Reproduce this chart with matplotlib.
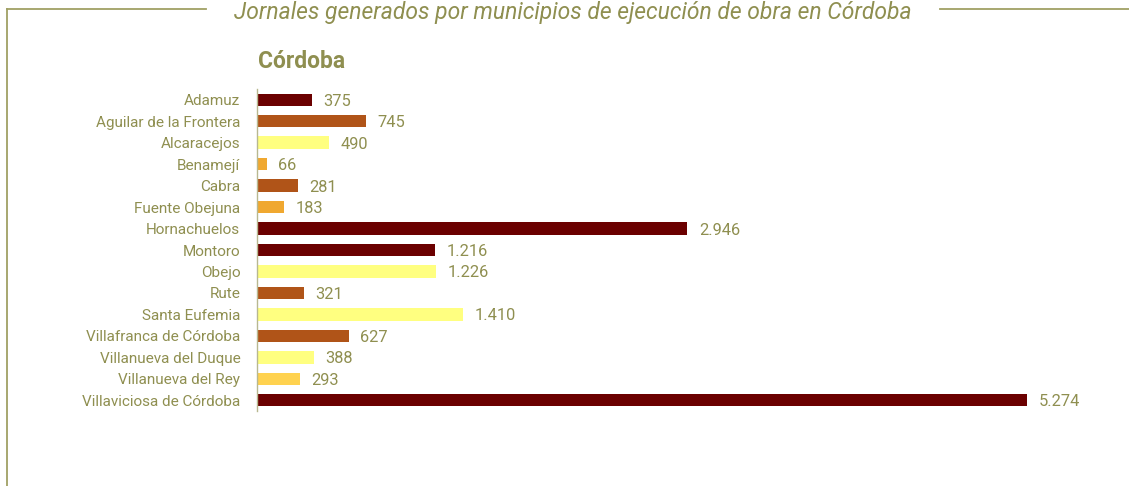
import matplotlib
matplotlib.use("Agg")
import matplotlib.pyplot as plt
from matplotlib.lines import Line2D

municipios = ["Adamuz", "Aguilar de la Frontera", "Alcaracejos", "Benamejí", "Cabra",
              "Fuente Obejuna", "Hornachuelos", "Montoro", "Obejo", "Rute",
              "Santa Eufemia", "Villafranca de Córdoba", "Villanueva del Duque",
              "Villanueva del Rey", "Villaviciosa de Córdoba"]
jornales = [375, 745, 490, 66, 281, 183, 2946, 1216, 1226, 321, 1410, 627, 388, 293, 5274]
colores = ["#6B0000", "#B05418", "#FFFF80", "#F0A830", "#B05418", "#F0A830", "#6B0000",
           "#6B0000", "#FFFF80", "#B05418", "#FFFF80", "#B05418", "#FFFF80", "#FFD24F", "#6B0000"]
titulo = "Jornales generados por municipios de ejecución de obra en Córdoba"
subtitulo = "Córdoba"

OLIVE = "#8F8F50"
LINEC = "#A0A064"
FONT = ["Roboto", "DejaVu Sans"]
plt.rcParams['font.family'] = FONT

W, H = 1129, 486
fig = plt.figure(figsize=(W / 100, H / 100), dpi=100)

ax_left, ax_right = 257, 1100
ax_top, ax_bot = 89, 411
ax = fig.add_axes([ax_left / W, 1 - ax_bot / H, (ax_right - ax_left) / W, (ax_bot - ax_top) / H])

y = list(range(len(municipios)))
ax.barh(y, jornales, height=0.58, color=colores, edgecolor="none")
xmax = 5274 * (ax_right - ax_left) / 770
ax.set_xlim(0, xmax)
ax.set_ylim(len(municipios) - 0.5, -0.5)
ax.set_yticks(y)
ax.set_yticklabels(municipios, fontsize=11, color=OLIVE, va="center_baseline")
ax.tick_params(axis="y", length=0, pad=12)
ax.set_xticks([])
for s in ["top", "right", "bottom"]:
    ax.spines[s].set_visible(False)
ax.spines["left"].set_color("#B8B890")
ax.spines["left"].set_linewidth(1)

def fmt(v):
    return f"{v:,}".replace(",", ".")

for yi, v in zip(y, jornales):
    ax.text(v + 80, yi, fmt(v), va="center_baseline", ha="left", fontsize=11.8, color=OLIVE)

# frame
fig.add_artist(Line2D([7 / W, 7 / W], [0, 1 - 9 / H], color=LINEC, lw=1.3, transform=fig.transFigure))
fig.add_artist(Line2D([7 / W, 206 / W], [1 - 9 / H, 1 - 9 / H], color=LINEC, lw=1.3, transform=fig.transFigure))
fig.add_artist(Line2D([940 / W, 1], [1 - 9 / H, 1 - 9 / H], color=LINEC, lw=1.3, transform=fig.transFigure))

fig.text(573 / W, 1 - 1 / H, titulo, ha="center", va="top", fontsize=16.5,
         style="italic", color=OLIVE)
fig.text(258 / W, 1 - 62 / H, subtitulo, ha="left", va="center", fontsize=16.5,
         weight="bold", color=OLIVE)

fig.savefig("out.png", dpi=100)
